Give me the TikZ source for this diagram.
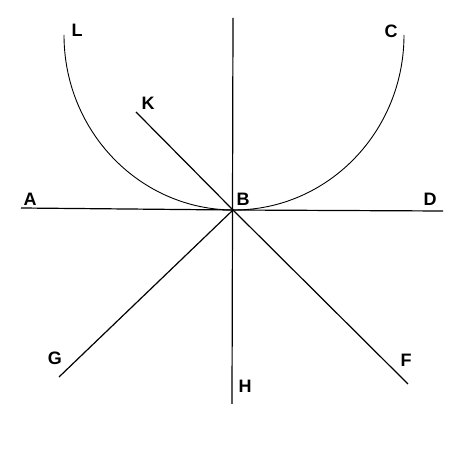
\documentclass[tikz,border=0pt]{standalone}
\usepackage{fontspec}
\setmainfont{Liberation Sans}
\begin{document}
\begin{tikzpicture}[x=1pt,y=-1pt,
  lbl/.style={font=\bfseries\fontsize{18}{18}\selectfont, inner sep=0pt},
  ln/.style={line width=1.2pt, black},
  arcln/.style={line width=0.9pt, black}]
\useasboundingbox (0,0) rectangle (472,462);
\coordinate (B) at (233,210);
\coordinate (A) at (21,208);
\coordinate (D) at (443,211);
\coordinate (T) at (233,18);
\coordinate (Hb) at (232,404);
\coordinate (K) at (136,112);
\coordinate (F) at (408,384);
\coordinate (G) at (59,377);
\coordinate (Lp) at (64,35);
\draw[ln] (A) -- (B) -- (D);
\draw[ln] (T) -- (Hb);
\draw[ln] (K) -- (B) -- (F);
\draw[ln] (G) -- (B);
\draw[arcln] (Lp) arc[start angle=180, end angle=360, x radius=170, y radius=-175];
\node[lbl] (lL) at (77,30) {L};
\node[lbl] (lC) at (391,31) {C};
\node[lbl] (lK) at (148,103) {K};
\node[lbl] (lA) at (30,199) {A};
\node[lbl] (lB) at (243,199) {B};
\node[lbl] (lD) at (430,199) {D};
\node[lbl] (lG) at (55,358) {G};
\node[lbl] (lF) at (406,360) {F};
\node[lbl] (lH) at (245,386) {H};
\end{tikzpicture}
\end{document}
